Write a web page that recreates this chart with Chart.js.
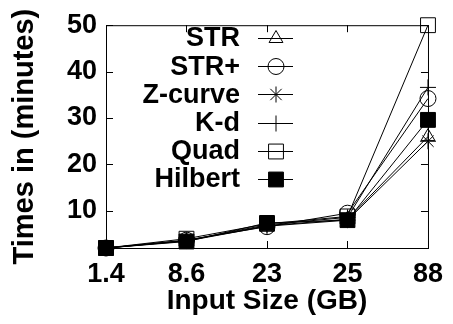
<!DOCTYPE html>
<html>
<head>
<meta charset="utf-8">
<script src="https://cdn.jsdelivr.net/npm/chart.js@4/dist/chart.umd.min.js"></script>
<style>
  html, body { margin: 0; padding: 0; background: #fff; }
</style>
</head>
<body>
<canvas id="myChart" width="453" height="324"></canvas>
<script>
// input sizes (GB) on the x axis
const sizes = ["1.4", "8.6", "23", "25", "88"];
// times in minutes
const strTimes = [2, 3.6, 6.8, 8.2, 26];
const strPlusTimes = [2, 3.7, 6.6, 9.5, 34.2];
const zcurveTimes = [2, 3.5, 6.7, 8.0, 25];
const kdTimes = [2, 3.6, 7.0, 8.6, 36.6];
const quadTimes = [2, 4.0, 7.2, 8.8, 50];
const hilbertTimes = [2, 3.4, 7.4, 8.0, 29.6];
const yTicks = [10, 20, 30, 40, 50];

const FONT = "'Liberation Sans', Arial, Helvetica, sans-serif";

function series(label, data, style, radius, fill, order) {
  return {
    label: label,
    data: data,
    borderColor: "black",
    borderWidth: 1,
    pointStyle: style,
    pointRadius: radius,
    pointHoverRadius: radius,
    pointBorderColor: "black",
    pointBorderWidth: 1,
    pointBackgroundColor: fill ? "black" : "rgba(0,0,0,0)",
    backgroundColor: fill ? "black" : "rgba(0,0,0,0)",
    fill: false,
    tension: 0,
    clip: false,
    order: order,
  };
}

// gnuplot-like frame: full box, inward ticks on all four sides
const framePlugin = {
  id: "frame",
  beforeDatasetsDraw(chart) {
    const { ctx, chartArea: a, scales } = chart;
    ctx.save();
    ctx.strokeStyle = "black";
    ctx.lineWidth = 1;
    ctx.strokeRect(a.left + 0.5, a.top + 0.5, a.right - a.left, a.bottom - a.top);
    ctx.beginPath();
    yTicks.forEach((v) => {
      const y = Math.round(scales.y.getPixelForValue(v)) + 0.5;
      ctx.moveTo(a.left, y); ctx.lineTo(a.left + 7, y);
      ctx.moveTo(a.right, y); ctx.lineTo(a.right - 7, y);
    });
    sizes.forEach((s, i) => {
      const x = Math.round(scales.x.getPixelForValue(i)) + 0.5;
      ctx.moveTo(x, a.bottom); ctx.lineTo(x, a.bottom - 7);
      ctx.moveTo(x, a.top); ctx.lineTo(x, a.top + 7);
    });
    ctx.stroke();
    ctx.restore();
  },
  afterDraw(chart) {
    // key: label right-aligned, then a short line with the marker
    const { ctx } = chart;
    ctx.save();
    ctx.font = "bold 27px " + FONT;
    ctx.fillStyle = "black";
    ctx.textAlign = "right";
    ctx.textBaseline = "middle";
    chart.data.datasets.forEach((ds, i) => {
      const y = 38 + i * 28.2;
      ctx.fillText(ds.label, 240, y + 1);
      ctx.beginPath();
      ctx.strokeStyle = "black";
      ctx.lineWidth = 1;
      ctx.moveTo(258, Math.round(y) + 0.5);
      ctx.lineTo(293, Math.round(y) + 0.5);
      ctx.stroke();
      ctx.fillStyle = ds.pointBackgroundColor;
      ctx.strokeStyle = "black";
      Chart.helpers.drawPoint(ctx, {
        pointStyle: ds.pointStyle,
        radius: ds.pointRadius,
        borderWidth: 1,
        rotation: 0,
      }, 276, Math.round(y) + 0.5);
      ctx.fillStyle = "black";
    });
    ctx.restore();
  },
};

const myChartRef = document.getElementById("myChart").getContext("2d");

new Chart(myChartRef, {
  type: "line",
  data: {
    labels: sizes,
    datasets: [
      series("STR", strTimes, "triangle", 8, false, 5),
      series("STR+", strPlusTimes, "circle", 8, false, 4),
      series("Z-curve", zcurveTimes, "star", 8, false, 3),
      series("K-d", kdTimes, "cross", 8, false, 2),
      series("Quad", quadTimes, "rect", 10.5, false, 1),
      series("Hilbert", hilbertTimes, "rect", 10.5, true, 0),
    ],
  },
  options: {
    responsive: false,
    animation: false,
    layout: { padding: { left: 0, right: 17, top: 19, bottom: 0 } },
    plugins: {
      legend: { display: false },
      tooltip: { enabled: false },
    },
    scales: {
      x: {
        type: "category",
        offset: false,
        grid: { display: false, drawTicks: false, offset: false },
        border: { display: false },
        ticks: {
          color: "black",
          padding: 10,
          maxRotation: 0,
          autoSkip: false,
          font: { family: FONT, size: 27, weight: "bold" },
        },
        title: {
          display: true,
          text: "Input Size (GB)",
          color: "black",
          padding: { top: 0, bottom: 6 },
          font: { family: FONT, size: 28, weight: "bold" },
        },
        afterFit(scale) { scale.height = 76; },
      },
      y: {
        min: 2,
        max: 50,
        grid: { display: false, drawTicks: false },
        border: { display: false },
        afterBuildTicks(scale) {
          scale.ticks = yTicks.map((v) => ({ value: v }));
        },
        ticks: {
          color: "black",
          padding: 9,
          font: { family: FONT, size: 27, weight: "bold" },
        },
        title: {
          display: true,
          text: "Times in (minutes)",
          color: "black",
          padding: { top: 8, bottom: 0 },
          font: { family: FONT, size: 29, weight: "bold" },
        },
        afterFit(scale) { scale.width = 106; },
      },
    },
  },
  plugins: [framePlugin],
});
</script>
</body>
</html>
